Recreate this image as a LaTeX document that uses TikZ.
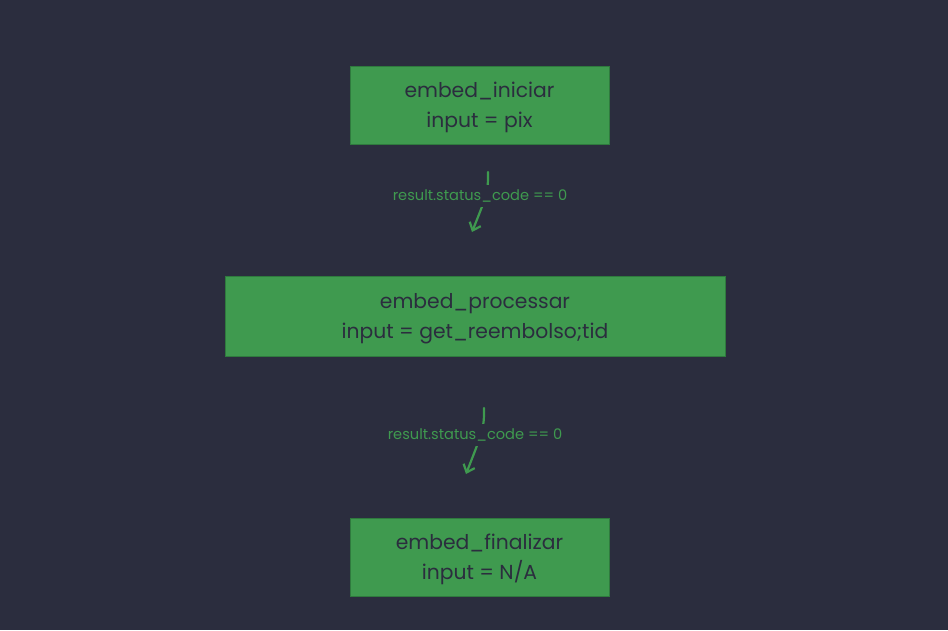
\documentclass[tikz,border=0pt]{standalone}
\usepackage{fontspec}
\setmainfont{Poppins}
\usetikzlibrary{arrows.meta}
\definecolor{bg}{HTML}{2B2D3E}
\definecolor{boxfill}{HTML}{3F9A4F}
\definecolor{boxline}{HTML}{2F7A3E}
\definecolor{txt}{HTML}{2B2D3E}
\definecolor{edge}{HTML}{3F9A4F}
\tikzset{
  stepbox/.style={draw=boxline, line width=1pt, fill=boxfill, inner sep=0pt},
  steptext/.style={text=txt, align=center, font=\fontsize{20.3}{30}\selectfont, inner sep=0pt},
  conn/.style={draw=edge, line width=2.2pt, line cap=round,
    -{Straight Barb[length=7pt,width=12pt,line width=2.2pt]}},
  lbl/.style={fill=bg, text=edge, font=\fontsize{14.6}{16}\selectfont, inner xsep=2pt, inner ysep=5pt}
}
\begin{document}
\begin{tikzpicture}[x=1pt,y=-1pt]
\fill[bg] (0,0) rectangle (948,630);
\useasboundingbox (0,0) rectangle (948,630);
\node[stepbox, minimum width=259pt, minimum height=78pt] (b1) at (479.5,105) {};
\node[stepbox, minimum width=500pt, minimum height=80pt] (b2) at (475,316) {};
\node[stepbox, minimum width=259pt, minimum height=78pt] (b3) at (479.5,557) {};
\node[steptext] (t1) at ([yshift=-2.5pt]b1.center) {embed\_iniciar\\input = pix};
\node[steptext] (t2) at ([yshift=-2.5pt]b2.center) {embed\_processar\\input = get\_reembolso;tid};
\node[steptext] (t3) at ([yshift=-2.5pt]b3.center) {embed\_finalizar\\input = N/A};
\coordinate (a1s) at (488,172);
\coordinate (a1e) at (472,232);
\coordinate (a2s) at (484,408);
\coordinate (a2e) at (466,474);
\draw[conn] (a1s) .. controls (488,192) .. (a1e);
\draw[conn] (a2s) .. controls (484,428) .. (a2e);
\node[lbl] (l1) at (480,196) {result.status\_code == 0};
\node[lbl] (l2) at (475,435) {result.status\_code == 0};
\end{tikzpicture}
\end{document}
